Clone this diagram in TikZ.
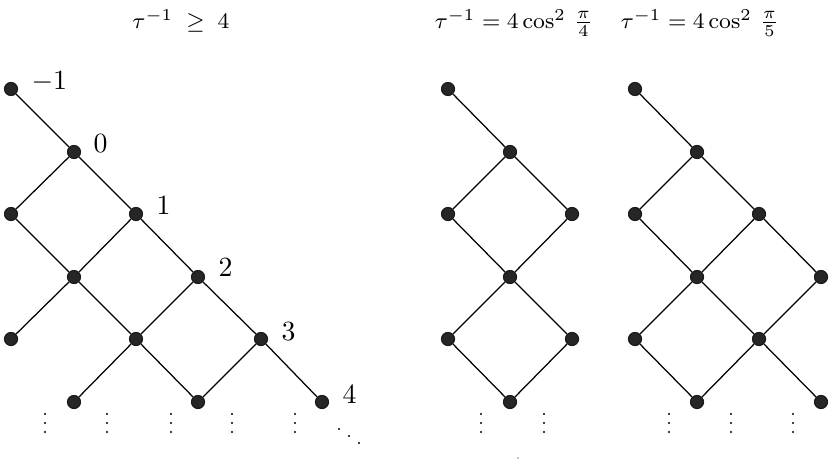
\documentclass[tikz,border=0pt]{standalone}
\usepackage{amsmath}
\begin{document}
\begin{tikzpicture}[x=0.36pt,y=-0.36pt,
  vtx/.style={circle,fill=black!85,draw=black!90,inner sep=0pt,minimum size=4.7pt},
  edge/.style={line width=0.45pt,black},
  lbl/.style={anchor=west,inner sep=0pt,font=\fontsize{10}{12}\selectfont},
  ttl/.style={anchor=base,inner sep=0pt,font=\fontsize{8}{10}\selectfont},
  dotmark/.style={circle,fill=black,inner sep=0pt,minimum size=0.85pt}]
\useasboundingbox (0,0) rectangle (831,462);
% ---------- left graph ----------
\node[vtx] (Lm1) at (11,89) {};
\node[vtx] (L0) at (74,152) {};
\node[vtx] (L1) at (136,214) {};
\node[vtx] (L2) at (198,277) {};
\node[vtx] (L3) at (261,339) {};
\node[vtx] (L4) at (322,402) {};
\node[vtx] (La) at (11,214) {};
\node[vtx] (Lb) at (74,277) {};
\node[vtx] (Lc) at (11,339) {};
\node[vtx] (Ld) at (136,339) {};
\node[vtx] (Le) at (74,402) {};
\node[vtx] (Lf) at (198,402) {};
\draw[edge] (Lm1)--(L0) (L0)--(La) (L0)--(L1) (La)--(Lb) (L1)--(Lb) (L1)--(L2)
  (Lb)--(Lc) (Lb)--(Ld) (L2)--(Ld) (L2)--(L3) (Ld)--(Le) (Ld)--(Lf) (L3)--(Lf) (L3)--(L4);
\node[lbl] (tm1) at (31,82) {$-1$};
\node[lbl] (t0) at (93,144) {$0$};
\node[lbl] (t1) at (156,206) {$1$};
\node[lbl] (t2) at (218,268) {$2$};
\node[lbl] (t3) at (281,332) {$3$};
\node[lbl] (t4) at (342,395) {$4$};
% ---------- middle graph ----------
\node[vtx] (M0) at (448,89) {};
\node[vtx] (M1) at (510,152) {};
\node[vtx] (M2) at (448,214) {};
\node[vtx] (M3) at (572,214) {};
\node[vtx] (M4) at (510,277) {};
\node[vtx] (M5) at (448,339) {};
\node[vtx] (M6) at (572,339) {};
\node[vtx] (M7) at (510,402) {};
\draw[edge] (M0)--(M1) (M1)--(M2) (M1)--(M3) (M2)--(M4) (M3)--(M4)
  (M4)--(M5) (M4)--(M6) (M5)--(M7) (M6)--(M7);
% ---------- right graph ----------
\node[vtx] (R0) at (635,89) {};
\node[vtx] (R1) at (697,152) {};
\node[vtx] (R2) at (635,214) {};
\node[vtx] (R3) at (759,214) {};
\node[vtx] (R4) at (697,277) {};
\node[vtx] (R5) at (821,277) {};
\node[vtx] (R6) at (635,339) {};
\node[vtx] (R7) at (759,339) {};
\node[vtx] (R8) at (697,402) {};
\node[vtx] (R9) at (821,402) {};
\draw[edge] (R0)--(R1) (R1)--(R2) (R1)--(R3) (R2)--(R4) (R3)--(R4) (R3)--(R5)
  (R4)--(R6) (R4)--(R7) (R5)--(R7) (R6)--(R8) (R7)--(R8) (R7)--(R9);
% ---------- vertical dots ----------
\foreach \x in {45,107,171,232,295,481,544,669,731,793}
  \foreach \y in {414,423,432}
    \node[dotmark] at (\x,\y) {};
% diagonal dots
\foreach \x/\y in {339/429,349/436,359/443}
  \node[dotmark] at (\x,\y) {};
\node[circle,fill=black,inner sep=0pt,minimum size=0.5pt] (stray) at (518,458) {};
% ---------- titles ----------
\node[ttl] (T1) at (181,28) {$\tau^{-1}\;\geq\;4$};
\node[ttl] (T2) at (514,28) {$\tau^{-1} = 4\cos^2\,\frac{\pi}{4}$};
\node[ttl] (T3) at (700,28) {$\tau^{-1} = 4\cos^2\,\frac{\pi}{5}$};
\end{tikzpicture}
\end{document}
